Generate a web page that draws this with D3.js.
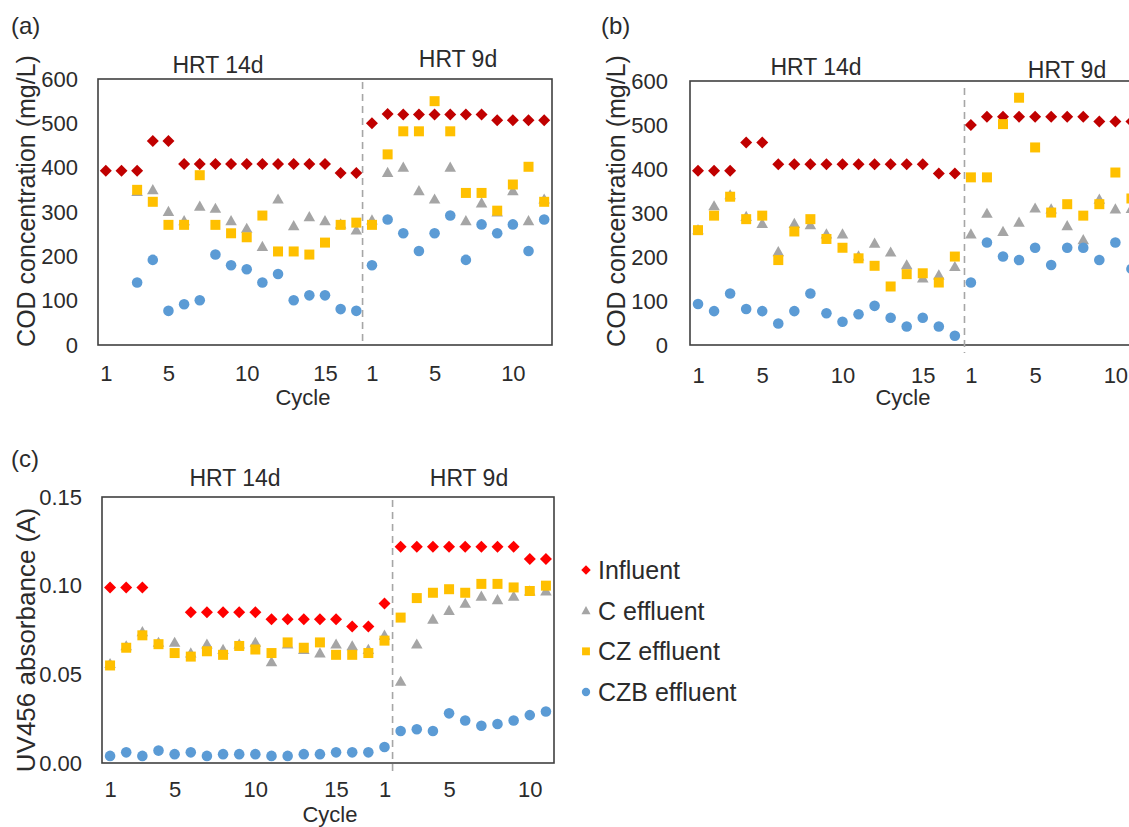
<!DOCTYPE html>
<html>
<head>
<meta charset="utf-8">
<script src="https://cdn.jsdelivr.net/npm/d3@7"></script>
<style>
  html, body { margin: 0; padding: 0; background: #ffffff; }
  svg { display: block; }
  text { font-family: "Liberation Sans", Arial, sans-serif; fill: #2b2b2b; }
</style>
</head>
<body>
<svg id="chart" width="1129" height="827"></svg>
<script>
// ---- data ---------------------------------------------------------------
// Cycle positions: HRT 14d cycles 1-17 followed by HRT 9d cycles.
const tickIndex = [0, 4, 9, 14, 17, 21, 26];
const tickText  = ["1", "5", "10", "15", "1", "5", "10"];
const codTicks  = [0, 100, 200, 300, 400, 500, 600];
const uvTicks   = [0, 0.05, 0.10, 0.15];
const seriesNames = ["Influent", "C effluent", "CZ effluent", "CZB effluent"];

// (a) COD concentration, mg/L (29 cycles: 17 at HRT 14d, 12 at HRT 9d)
const codA_influent = [393,393,393,460,460,408,408,408,408,408,408,408,408,408,408,388,388,
                       500,521,520,520,520,520,520,520,507,507,507,507];
const codA_C   = [null,null,346,350,301,280,313,308,280,263,222,329,269,289,280,273,259,
                  282,389,401,348,329,401,280,320,300,348,280,329];
const codA_CZ  = [null,null,350,323,271,271,383,271,252,243,292,211,211,204,231,271,276,
                  271,430,482,482,550,482,343,343,303,362,402,323];
const codA_CZB = [null,null,141,192,77,92,101,204,180,171,141,160,101,112,112,81,77,
                  180,283,252,212,252,292,192,272,252,272,212,283];

// (b) COD concentration, mg/L
const codB_influent = [396,396,396,460,460,411,411,411,411,411,411,411,411,411,411,390,390,
                       500,519,519,519,519,519,519,519,508,508,508,null];
const codB_C   = [262,316,341,292,276,212,276,273,252,252,202,231,211,182,152,159,178,
                  252,299,258,279,311,309,271,239,331,309,310,null];
const codB_CZ  = [261,294,337,286,294,193,258,286,241,221,197,180,133,161,163,142,201,
                  381,381,502,562,449,301,320,294,320,392,333,null];
const codB_CZB = [93,77,117,82,77,49,77,117,72,53,70,89,62,42,62,42,21,
                  142,233,201,193,221,182,221,221,193,233,173,null];

// (c) UV456 absorbance, A (28 cycles: 17 at HRT 14d, 11 at HRT 9d)
const uv_influent = [0.099,0.099,0.099,null,null,0.085,0.085,0.085,0.085,0.085,0.081,0.081,0.081,0.081,0.081,0.077,0.077,
                     0.090,0.122,0.122,0.122,0.122,0.122,0.122,0.122,0.122,0.115,0.115];
const uv_C   = [0.056,0.066,0.074,0.068,0.068,0.062,0.067,0.064,0.067,0.068,0.057,0.067,0.064,0.062,0.067,0.066,0.064,
                0.072,0.046,0.067,0.081,0.086,0.090,0.094,0.092,0.094,0.097,0.097];
const uv_CZ  = [0.055,0.065,0.072,0.067,0.062,0.060,0.063,0.061,0.066,0.064,0.062,0.068,0.065,0.068,0.061,0.061,0.062,
                0.069,0.082,0.093,0.096,0.098,0.096,0.101,0.101,0.099,0.097,0.100];
const uv_CZB = [0.004,0.006,0.004,0.007,0.005,0.006,0.004,0.005,0.005,0.005,0.004,0.004,0.005,0.005,0.006,0.006,0.006,
                0.009,0.018,0.019,0.018,0.028,0.024,0.021,0.022,0.024,0.027,0.029];

// ---- marker shapes -------------------------------------------------------
const diamondSym = { draw(ctx, size) { const r = Math.sqrt(size / 2);
  ctx.moveTo(0, -r); ctx.lineTo(r, 0); ctx.lineTo(0, r); ctx.lineTo(-r, 0); ctx.closePath(); } };
const triangleSym = { draw(ctx, size) { const s = Math.sqrt(size);
  ctx.moveTo(0, -0.55 * s); ctx.lineTo(0.55 * s, 0.42 * s); ctx.lineTo(-0.55 * s, 0.42 * s); ctx.closePath(); } };

const styles = {
  infDark:  { type: diamondSym,      size: 72,  color: "#C00000" },
  infRed:   { type: diamondSym,      size: 72,  color: "#FF0000" },
  C:        { type: triangleSym,     size: 110, color: "#A5A5A5" },
  CZ:       { type: d3.symbolSquare, size: 100, color: "#FFC000" },
  CZB:      { type: d3.symbolCircle, size: 88,  color: "#5B9BD5" }
};

const svg = d3.select("#chart");
const font = "\"Liberation Sans\", Arial, sans-serif";

function panel(cfg) {
  const g = svg.append("g");
  const x = d3.scaleLinear().domain([-0.5, cfg.n - 0.5]).range([cfg.left, cfg.right]);
  const y = d3.scaleLinear().domain(cfg.yDomain).range([cfg.bottom, cfg.top]);

  // plot frame
  g.append("rect")
    .attr("x", cfg.left).attr("y", cfg.top)
    .attr("width", cfg.right - cfg.left).attr("height", cfg.bottom - cfg.top)
    .attr("fill", "none").attr("stroke", "#404040").attr("stroke-width", 1.6);

  // HRT change marker
  g.append("line")
    .attr("x1", x(cfg.divider)).attr("x2", x(cfg.divider))
    .attr("y1", cfg.top + cfg.divTop).attr("y2", cfg.bottom + cfg.divBottom)
    .attr("stroke", "#A6A6A6").attr("stroke-width", 1.6).attr("stroke-dasharray", "7,5");

  // y axis
  const ya = g.append("g").attr("transform", `translate(${cfg.left},0)`)
    .call(d3.axisLeft(y).tickValues(cfg.yTicks).tickSize(0).tickPadding(cfg.yPad).tickFormat(cfg.yFormat));
  ya.select(".domain").remove();
  ya.selectAll("text").attr("font-size", 22).attr("font-family", font).attr("fill", "#2b2b2b");

  // x axis
  const xa = g.append("g").attr("transform", `translate(0,${cfg.bottom})`)
    .call(d3.axisBottom(x).tickValues(tickIndex).tickSize(0).tickPadding(cfg.xPad)
      .tickFormat((d, i) => tickText[i]));
  xa.select(".domain").remove();
  xa.selectAll("text").attr("font-size", 22).attr("font-family", font).attr("fill", "#2b2b2b");

  // axis titles
  g.append("text").attr("x", cfg.cycleX).attr("y", cfg.cycleY)
    .attr("text-anchor", "middle").attr("font-size", 22).text("Cycle");
  g.append("text")
    .attr("transform", `translate(${cfg.yTitleX},${cfg.yTitleY}) rotate(-90)`)
    .attr("text-anchor", "middle").attr("dominant-baseline", "central")
    .attr("font-size", cfg.yTitleSize).text(cfg.yTitle);

  // period headers and panel letter
  cfg.headers.forEach(h => g.append("text").attr("x", h.x).attr("y", h.y)
    .attr("text-anchor", "middle").attr("font-size", 23).text(h.text));
  g.append("text").attr("x", cfg.letterX).attr("y", cfg.letterY)
    .attr("font-family", "\"Liberation Serif\", \"Times New Roman\", serif")
    .attr("font-size", 24).text(cfg.letter);

  // markers, drawn in series order so later series sit on top
  cfg.series.forEach(s => {
    const st = styles[s.style];
    const sym = d3.symbol().type(st.type).size(st.size);
    g.append("g").selectAll("path")
      .data(s.values.map((v, i) => ({ i, v })).filter(d => d.v != null))
      .join("path")
      .attr("transform", d => `translate(${x(d.i)},${y(d.v)})`)
      .attr("d", sym)
      .attr("fill", st.color);
  });
}

panel({
  letter: "(a)", letterX: 11, letterY: 34,
  left: 98, right: 552, top: 79, bottom: 345, n: 29, divider: 16.4, divTop: 3, divBottom: 0,
  yDomain: [0, 600], yTicks: codTicks, yFormat: d3.format("d"), yPad: 20, xPad: 20,
  cycleX: 303, cycleY: 405,
  yTitle: "COD concentration (mg/L)", yTitleX: 26, yTitleY: 201, yTitleSize: 25,
  headers: [{ text: "HRT 14d", x: 218, y: 73 }, { text: "HRT 9d", x: 458, y: 67 }],
  series: [
    { style: "infDark", values: codA_influent },
    { style: "C",       values: codA_C },
    { style: "CZ",      values: codA_CZ },
    { style: "CZB",     values: codA_CZB }
  ]
});

panel({
  letter: "(b)", letterX: 601, letterY: 34,
  left: 690, right: 1155.5, top: 81, bottom: 345, n: 29, divider: 16.6, divTop: 7, divBottom: 8,
  yDomain: [0, 600], yTicks: codTicks, yFormat: d3.format("d"), yPad: 22, xPad: 22,
  cycleX: 903, cycleY: 405,
  yTitle: "COD concentration (mg/L)", yTitleX: 616, yTitleY: 201, yTitleSize: 25,
  headers: [{ text: "HRT 14d", x: 816, y: 75 }, { text: "HRT 9d", x: 1067, y: 78 }],
  series: [
    { style: "infDark", values: codB_influent },
    { style: "C",       values: codB_C },
    { style: "CZ",      values: codB_CZ },
    { style: "CZB",     values: codB_CZB }
  ]
});

panel({
  letter: "(c)", letterX: 11, letterY: 467,
  left: 102, right: 554, top: 497, bottom: 763, n: 28, divider: 17.5, divTop: 3, divBottom: 8,
  yDomain: [0, 0.15], yTicks: uvTicks, yFormat: d3.format(".2f"), yPad: 20, xPad: 18,
  cycleX: 330, cycleY: 822,
  yTitle: "UV456 absorbance (A)", yTitleX: 26, yTitleY: 640, yTitleSize: 26,
  headers: [{ text: "HRT 14d", x: 235, y: 486 }, { text: "HRT 9d", x: 469, y: 486 }],
  series: [
    { style: "infRed", values: uv_influent },
    { style: "C",      values: uv_C },
    { style: "CZ",     values: uv_CZ },
    { style: "CZB",    values: uv_CZB }
  ]
});

// legend
const legendStyles = ["infRed", "C", "CZ", "CZB"];
const legendY = d3.scalePoint().domain(seriesNames).range([570, 692]);
const lg = svg.append("g");
seriesNames.forEach((name, k) => {
  const st = styles[legendStyles[k]];
  lg.append("path")
    .attr("transform", `translate(586,${legendY(name)})`)
    .attr("d", d3.symbol().type(st.type).size(st.size * 0.62)())
    .attr("fill", st.color);
  lg.append("text").attr("x", 598).attr("y", legendY(name))
    .attr("dominant-baseline", "central").attr("font-size", 25).text(name);
});
</script>
</body>
</html>
